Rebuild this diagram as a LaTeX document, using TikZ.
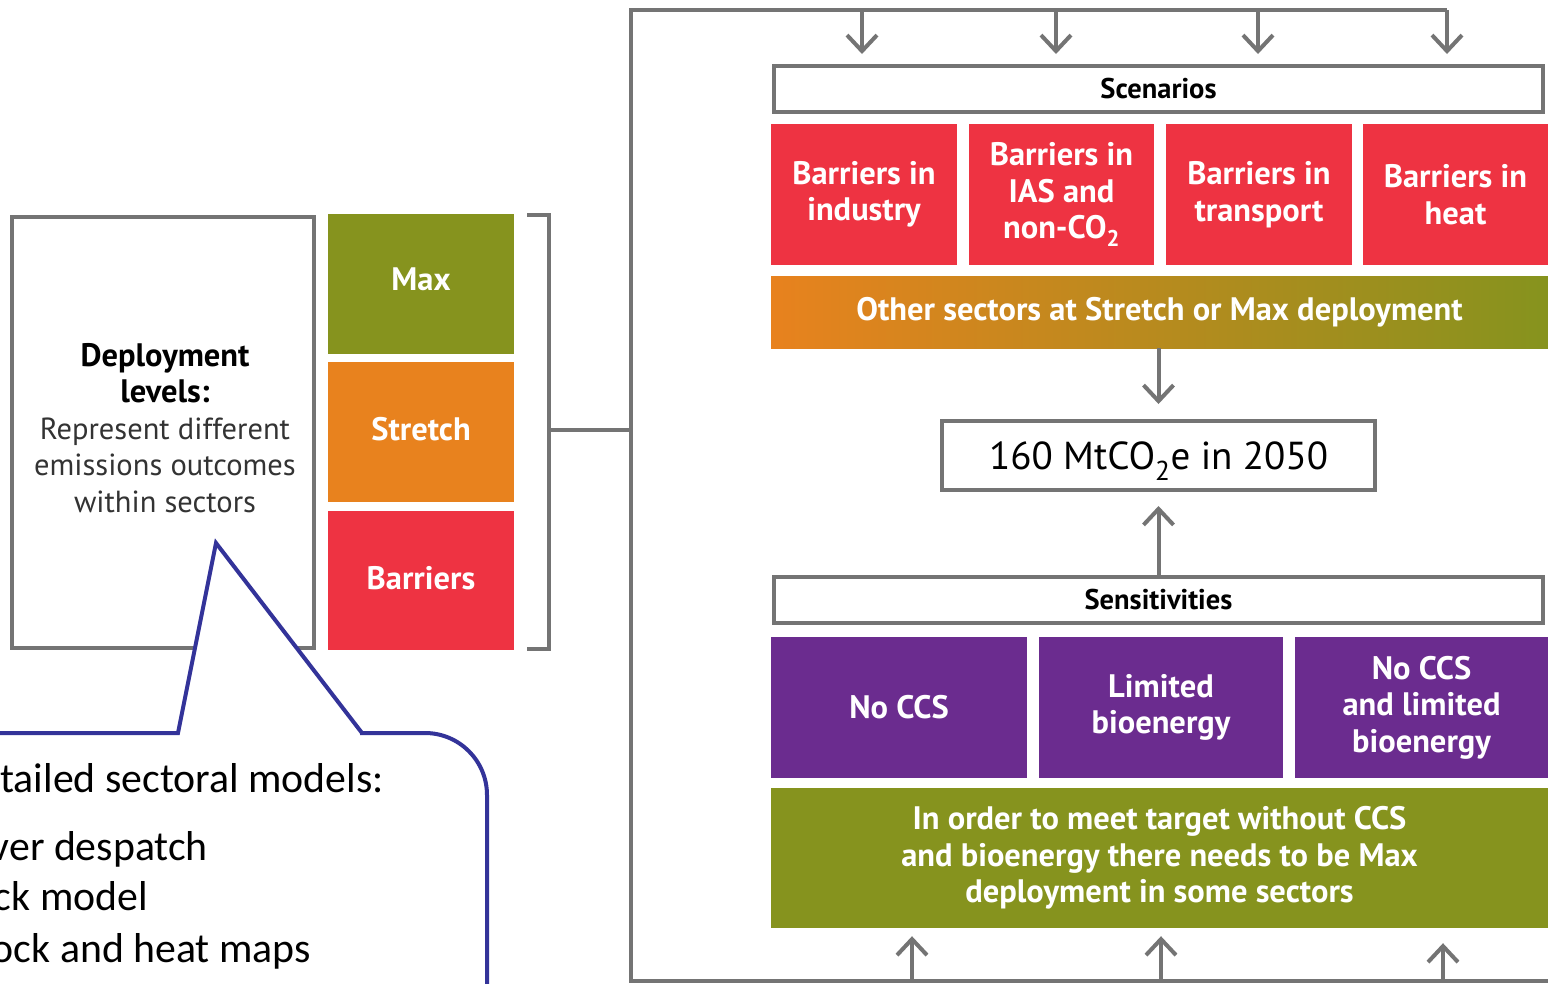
\documentclass[tikz,border=0pt]{standalone}
\usepackage{fontspec}
\setmainfont{PT Sans}
\newfontfamily\calib{Carlito}
\usetikzlibrary{arrows.meta}
\definecolor{cred}{HTML}{EE3342}
\definecolor{corange}{HTML}{E8821E}
\definecolor{colive}{HTML}{86931E}
\definecolor{cpurple}{HTML}{6B2C8F}
\definecolor{cgray}{HTML}{747474}
\definecolor{cblue}{HTML}{333399}
\definecolor{ctext}{HTML}{333333}
\newcommand\vlow[2]{\raisebox{#1}[0pt][0pt]{#2}}
\begin{document}
\begin{tikzpicture}[x=1pt,y=-1pt,
  wbox/.style={draw=cgray, line width=4pt, fill=white, inner sep=0pt, align=center},
  cbox/.style={inner sep=0pt, text=white, align=center, font=\bfseries\fontsize{32.5}{36.5}\selectfont},
  hbox/.style={wbox, minimum width=769pt, minimum height=46pt, font=\bfseries\fontsize{28.5}{34}\selectfont},
  arr/.style={draw=cgray, line width=4pt, -{Straight Barb[length=16pt,width=30pt]}},
  gline/.style={draw=cgray, line width=4pt},
  ctxt/.style={anchor=base east, inner sep=0pt, font=\calib\fontsize{41.8}{50}\selectfont}
]
\useasboundingbox (0,0) rectangle (1548,983);
\fill[white] (0,0) rectangle (1548,983);

% frame
\coordinate (ftr) at (1447,10);
\coordinate (ftl) at (631,10);
\coordinate (fbl) at (631,981);
\coordinate (fbr) at (1552,981);
\draw[gline] (ftr) -- (ftl) -- (fbl) -- (fbr);

% scenarios
\node[hbox] (scen) at (1158.5,89) {Scenarios};
\node[cbox, fill=cred, minimum width=186pt, minimum height=141pt] (r1) at (864,194.5) {Barriers in\\industry};
\node[cbox, fill=cred, minimum width=185pt, minimum height=141pt] (r2) at (1061.5,194.5) {Barriers in\\IAS and\\non-CO\textsubscript{2}};
\node[cbox, fill=cred, minimum width=186pt, minimum height=141pt] (r3) at (1259,194.5) {Barriers in\\transport};
\node[cbox, fill=cred, minimum width=185pt, minimum height=141pt] (r4) at (1455.5,194.5) {Barriers in\\heat};
\node[cbox, left color=corange, right color=colive, minimum width=777pt, minimum height=72pt] (grad) at (1159.5,312) {Other sectors at Stretch or Max deployment};

\node[wbox, minimum width=433pt, minimum height=69pt, font=\fontsize{39}{44}\selectfont] (target) at (1158.5,455.5) {\vlow{-14pt}{160 MtCO\textsubscript{2}e in 2050}};

\node[hbox] (sens) at (1158.5,600) {Sensitivities};
\node[cbox, fill=cpurple, minimum width=256pt, minimum height=141pt] (p1) at (899,707.5) {No CCS};
\node[cbox, fill=cpurple, minimum width=244pt, minimum height=141pt] (p2) at (1161,707.5) {Limited\\bioenergy};
\node[cbox, fill=cpurple, minimum width=253pt, minimum height=141pt] (p3) at (1421.5,707.5) {No CCS\\and limited\\bioenergy};
\node[cbox, fill=colive, minimum width=777pt, minimum height=140pt] (green) at (1159.5,858) {In order to meet target without CCS\\and bioenergy there needs to be Max\\deployment in some sectors};

% top arrows
\coordinate (a1) at (862,10);
\coordinate (a2) at (1056,10);
\coordinate (a3) at (1258,10);
\coordinate (a4) at (1447,10);
\foreach \a in {a1,a2,a3,a4}{\draw[arr, shorten >=10pt] (\a) -- (\a |- scen.north);}
% middle arrows
\draw[arr, shorten >=15pt] (grad.south -| target.north) -- (target.north);
\draw[arr, shorten >=14pt] (sens.north) -- (target.south);
% bottom arrows
\coordinate (b1) at (912,981);
\coordinate (b2) at (1161,981);
\coordinate (b3) at (1443,981);
\draw[arr, shorten >=8pt] (b1) -- (b1 |- green.south);
\draw[arr, shorten >=8pt] (b2) -- (b2 |- green.south);
\draw[arr, shorten >=15pt] (b3) -- (b3 |- green.south);

% left side
\node[wbox, minimum width=302pt, minimum height=431pt] (deploy) at (163,432.5) {};
\node[inner sep=0pt, align=center, font=\fontsize{30.5}{36.5}\selectfont] (deploytxt) at (165,428) {{\bfseries\fontsize{32.5}{36.5}\selectfont Deployment}\\{\bfseries\fontsize{32.5}{36.5}\selectfont levels:}\\{\color{ctext}Represent different}\\{\color{ctext}emissions outcomes}\\{\color{ctext}within sectors}};
\node[cbox, fill=colive, minimum width=186pt, minimum height=140pt] (max) at (421,284) {\vlow{-6.5pt}{Max}};
\node[cbox, fill=corange, minimum width=186pt, minimum height=140pt] (stretch) at (421,432) {\vlow{-8.5pt}{Stretch}};
\node[cbox, fill=cred, minimum width=186pt, minimum height=139pt] (barr) at (421,580.5) {\vlow{-8.5pt}{Barriers}};

% bracket
\coordinate (bt) at (527,215);
\coordinate (bb) at (527,649);
\coordinate (brk) at (549,430);
\draw[gline] (bt) -- (549,215) -- (549,649) -- (bb);
\draw[gline] (brk) -- (brk -| ftl);

% callout
\fill[white, rounded corners=62pt] (0,733) -- (178,733) -- (216,543) -- (362,733) -- (487,733) -- (487,990) [sharp corners] -- (0,990) -- cycle;
\draw[cblue, line width=4pt, line join=miter] (-5,733) -- (178,733) -- (216,543) -- (362,733);
\draw[cblue, line width=4pt, rounded corners=62pt] (360,733) -- (487,733) -- (487,990);
\node[ctxt] (c1) at (384,792) {tailed sectoral models:};
\node[ctxt] (c2) at (208,860) {ver despatch};
\node[ctxt] (c3) at (148,910) {ck model};
\node[ctxt] (c4) at (311,962) {ock and heat maps};
\end{tikzpicture}
\end{document}
